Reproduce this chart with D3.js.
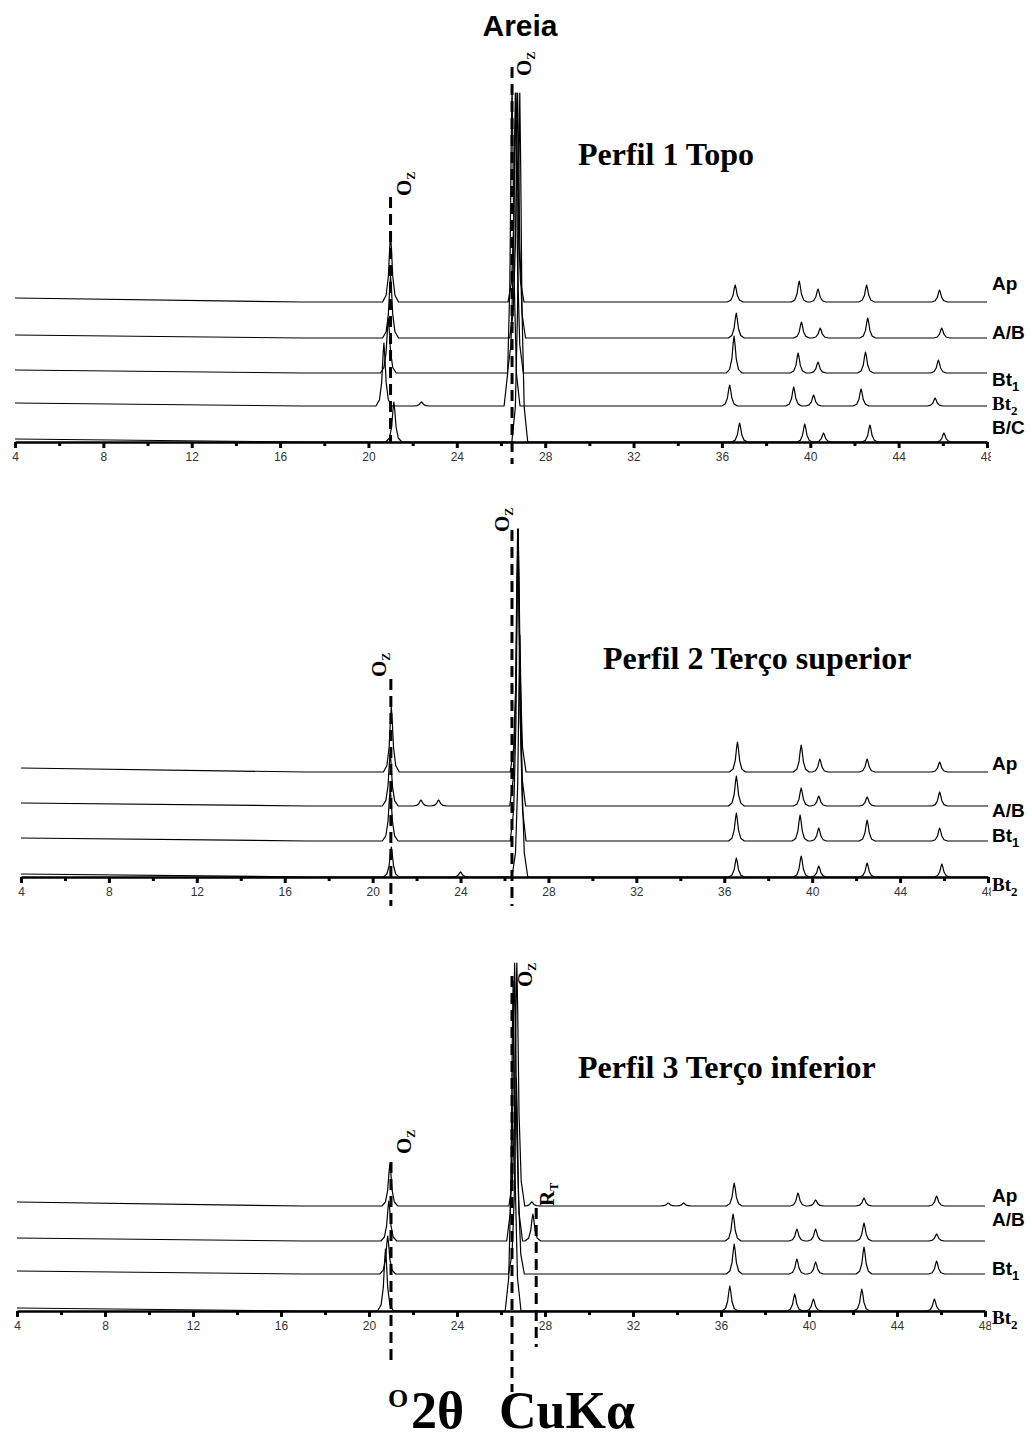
<!DOCTYPE html>
<html>
<head>
<meta charset="utf-8">
<title>Areia</title>
<script src="https://d3js.org/d3.v7.min.js"></script>
<style>
  body { margin: 0; background: #fff; }
  svg { display: block; }
  .tick text { font-family: "Liberation Sans", Arial, sans-serif; font-size: 12px; fill: #333; }
  .axis path.domain { stroke: #000; stroke-width: 2.5; }
  .axis .tick line { stroke: #000; stroke-width: 3; }
  .trace { fill: none; stroke: #000; stroke-width: 1.2; stroke-linejoin: round; }
  .marker { stroke: #000; stroke-width: 3; stroke-dasharray: 11 6; }
  .hlab { font-family: "Liberation Sans", Arial, sans-serif; font-weight: bold; font-size: 19px; }
  .hlab.serif { font-family: "Liberation Serif", "Times New Roman", serif; }
  .ptitle { font-family: "Liberation Serif", "Times New Roman", serif; font-weight: bold; font-size: 32px; }
  .mineral { font-family: "Liberation Serif", "Times New Roman", serif; font-weight: bold; font-size: 21px; }
  .xtitle { font-family: "Liberation Serif", "Times New Roman", serif; font-weight: bold; }
</style>
</head>
<body>
<svg id="chart" width="1032" height="1438"></svg>
<script>
  // eixo 2θ
  var majorTicks = [4, 8, 12, 16, 20, 24, 28, 32, 36, 40, 44, 48];
  var minorTicks = [6, 10, 14, 18, 22, 26, 30, 34, 38, 42, 46];

  // Perfil 1 Topo  -- picos [2θ, intensidade]
  var p1Names = ["Ap", "A/B", "Bt1", "Bt2", "B/C"];
  var p1Offsets = [140, 104, 69, 36, 0];
  var p1Bg = [4, 3, 3, 3, 3];
  var p1Peaks = [
    [[21.0, 67], [26.68, 209], [36.6, 17], [39.5, 21], [40.35, 13], [42.55, 17], [45.85, 12]],
    [[21.0, 62], [26.75, 245], [36.65, 25], [39.6, 16], [40.45, 10], [42.6, 20], [45.95, 10]],
    [[20.9, 55], [26.65, 280], [36.55, 37], [39.45, 20], [40.35, 11], [42.5, 21], [45.8, 13]],
    [[20.7, 63], [22.4, 4], [26.5, 321], [36.35, 21], [39.25, 19], [40.15, 11], [42.3, 17], [45.65, 8]],
    [[21.15, 40], [26.85, 349], [36.8, 19], [39.75, 18], [40.6, 9], [42.7, 17], [46.05, 9]]
  ];
  var p1Markers = [21.0, 26.5];

  // Perfil 2 Terço superior
  var p2Names = ["Ap", "A/B", "Bt1", "Bt2"];
  var p2Offsets = [105, 71, 36, 0];
  var p2Bg = [4, 3, 3, 3];
  var p2Peaks = [
    [[20.85, 65], [26.62, 243], [36.6, 30], [39.5, 27], [40.35, 13], [42.5, 13], [45.8, 10]],
    [[20.8, 53], [22.2, 6], [23.0, 6], [26.6, 277], [36.55, 30], [39.5, 18], [40.3, 10], [42.5, 9], [45.8, 14]],
    [[20.8, 52], [26.62, 312], [36.55, 28], [39.45, 26], [40.3, 13], [42.5, 21], [45.8, 13]],
    [[20.85, 30], [24.0, 5], [26.7, 242], [36.55, 19], [39.5, 21], [40.3, 11], [42.5, 14], [45.9, 13]]
  ];
  var p2Markers = [20.83, 26.34];

  // Perfil 3 Terço inferior
  var p3Names = ["Ap", "A/B", "Bt1", "Bt2"];
  var p3Offsets = [105, 70, 37, 0];
  var p3Bg = [4, 3, 3, 3];
  var p3Peaks = [
    [[20.95, 42], [26.72, 243], [27.4, 4], [33.6, 3], [34.3, 3], [36.6, 23], [39.5, 13], [40.3, 6], [42.5, 8], [45.8, 10]],
    [[20.9, 40], [26.62, 278], [27.45, 27], [36.55, 27], [39.45, 12], [40.3, 12], [42.5, 18], [45.8, 7]],
    [[20.85, 38], [26.7, 196], [36.6, 30], [39.45, 15], [40.3, 12], [42.5, 27], [45.8, 13]],
    [[20.75, 62], [26.55, 330], [36.4, 25], [39.35, 17], [40.2, 12], [42.4, 22], [45.7, 12]]
  ];
  var p3Markers = [21.0, 26.5, 27.6];

  // forma de cada pico (largura em graus / fração da altura)
  var shapeDx = [-0.36, -0.2, -0.1, -0.04, 0, 0.04, 0.1, 0.2, 0.36];
  var shapeFr = [0, 0.1, 0.38, 0.8, 1, 0.8, 0.38, 0.1, 0];

  var panels = [
    { names: p1Names, offsets: p1Offsets, bg: p1Bg, peaks: p1Peaks, markers: p1Markers,
      axisY: 442, x0: 15, x1: 987,
      markerY: [[197, 442], [67, 464]],
      labelY: [290, 339, 386, 410, 434],
      title: "Perfil 1 Topo", titleX: 578, titleY: 165,
      ozs: [[411, 196, "O", "Z"], [531, 76, "O", "Z"]] },
    { names: p2Names, offsets: p2Offsets, bg: p2Bg, peaks: p2Peaks, markers: p2Markers,
      axisY: 877, x0: 21, x1: 988,
      markerY: [[679, 906], [530, 906]],
      labelY: [770, 817, 842, 891],
      title: "Perfil 2 Terço superior", titleX: 603, titleY: 669,
      ozs: [[386, 677, "O", "Z"], [509, 532, "O", "Z"]] },
    { names: p3Names, offsets: p3Offsets, bg: p3Bg, peaks: p3Peaks, markers: p3Markers,
      axisY: 1311, x0: 17, x1: 985,
      markerY: [[1162, 1362], [976, 1392], [1208, 1347]],
      labelY: [1202, 1226, 1275, 1324],
      title: "Perfil 3 Terço inferior", titleX: 578, titleY: 1078,
      ozs: [[411, 1154, "O", "Z"], [532, 987, "O", "Z"], [554, 1206, "R", "T"]] }
  ];

  var svg = d3.select("#chart");

  svg.append("text")
    .attr("x", 520).attr("y", 36)
    .attr("text-anchor", "middle")
    .style("font-family", "'Liberation Sans', Arial, sans-serif")
    .style("font-weight", "bold").style("font-size", "30px")
    .text("Areia");

  panels.forEach(function (p, pi) {
    var x = d3.scaleLinear().domain([4, 48]).range([p.x0, p.x1]);
    var y = d3.scaleLinear().domain([0, 400]).range([p.axisY, p.axisY - 400]);

    // axis labels cut at the right edge, like the original
    svg.append("clipPath").attr("id", "clip" + pi)
      .append("rect").attr("x", 0).attr("y", -10).attr("width", 991).attr("height", 40);

    // traces
    var line = d3.line().x(function (d) { return x(d[0]); }).y(function (d) { return d[1]; });
    p.names.forEach(function (name, i) {
      var off = p.offsets[i];
      var pts = [[4, y(off + p.bg[i])], [17, y(off)]];
      p.peaks[i].slice().sort(function (a, b) { return a[0] - b[0]; }).forEach(function (pk) {
        shapeDx.forEach(function (dx, k) {
          var px = pk[0] + dx;
          if (px > pts[pts.length - 1][0]) pts.push([px, y(off + pk[1] * shapeFr[k])]);
        });
      });
      pts.push([48, y(off)]);
      svg.append("path").attr("class", "trace").attr("d", line(pts));

      // series label
      var lab = svg.append("text")
        .attr("class", "hlab" + (name === "Bt2" ? " serif" : ""))
        .attr("x", 992).attr("y", p.labelY[i]);
      var m = name.match(/^(Bt)(\d)$/);
      if (m) {
        lab.append("tspan").text(m[1]);
        lab.append("tspan").attr("dy", 5).style("font-size", "13px").text(m[2]);
      } else {
        lab.text(name);
      }
    });

    // axis
    svg.append("g").attr("class", "axis")
      .attr("transform", "translate(0," + p.axisY + ")")
      .attr("clip-path", "url(#clip" + pi + ")")
      .call(d3.axisBottom(x).tickValues(majorTicks).tickSize(6).tickSizeOuter(0).tickPadding(4)
        .tickFormat(d3.format("d")));
    svg.append("g").attr("class", "axis")
      .attr("transform", "translate(0," + p.axisY + ")")
      .call(d3.axisBottom(x).tickValues(minorTicks).tickSize(4).tickFormat(""))
      .select(".domain").remove();

    // dashed reference lines
    p.markers.forEach(function (t, k) {
      svg.append("line").attr("class", "marker")
        .attr("x1", x(t)).attr("x2", x(t))
        .attr("y1", p.markerY[k][0]).attr("y2", p.markerY[k][1]);
    });

    // mineral labels (rotated)
    p.ozs.forEach(function (o) {
      var t = svg.append("text").attr("class", "mineral")
        .attr("transform", "translate(" + o[0] + "," + o[1] + ") rotate(-90)");
      t.append("tspan").text(o[2]);
      t.append("tspan").attr("dy", 4).style("font-size", "12px").text(o[3]);
    });

    svg.append("text").attr("class", "ptitle")
      .attr("x", p.titleX).attr("y", p.titleY).text(p.title);
  });

  // x-axis title
  svg.append("text").attr("class", "xtitle")
    .attr("x", 388).attr("y", 1407).style("font-size", "26px").text("O");
  svg.append("text").attr("class", "xtitle")
    .attr("x", 411).attr("y", 1428).style("font-size", "52px").text("2θ");
  svg.append("text").attr("class", "xtitle")
    .attr("x", 499).attr("y", 1428).style("font-size", "52px").text("CuKα");
</script>
</body>
</html>
